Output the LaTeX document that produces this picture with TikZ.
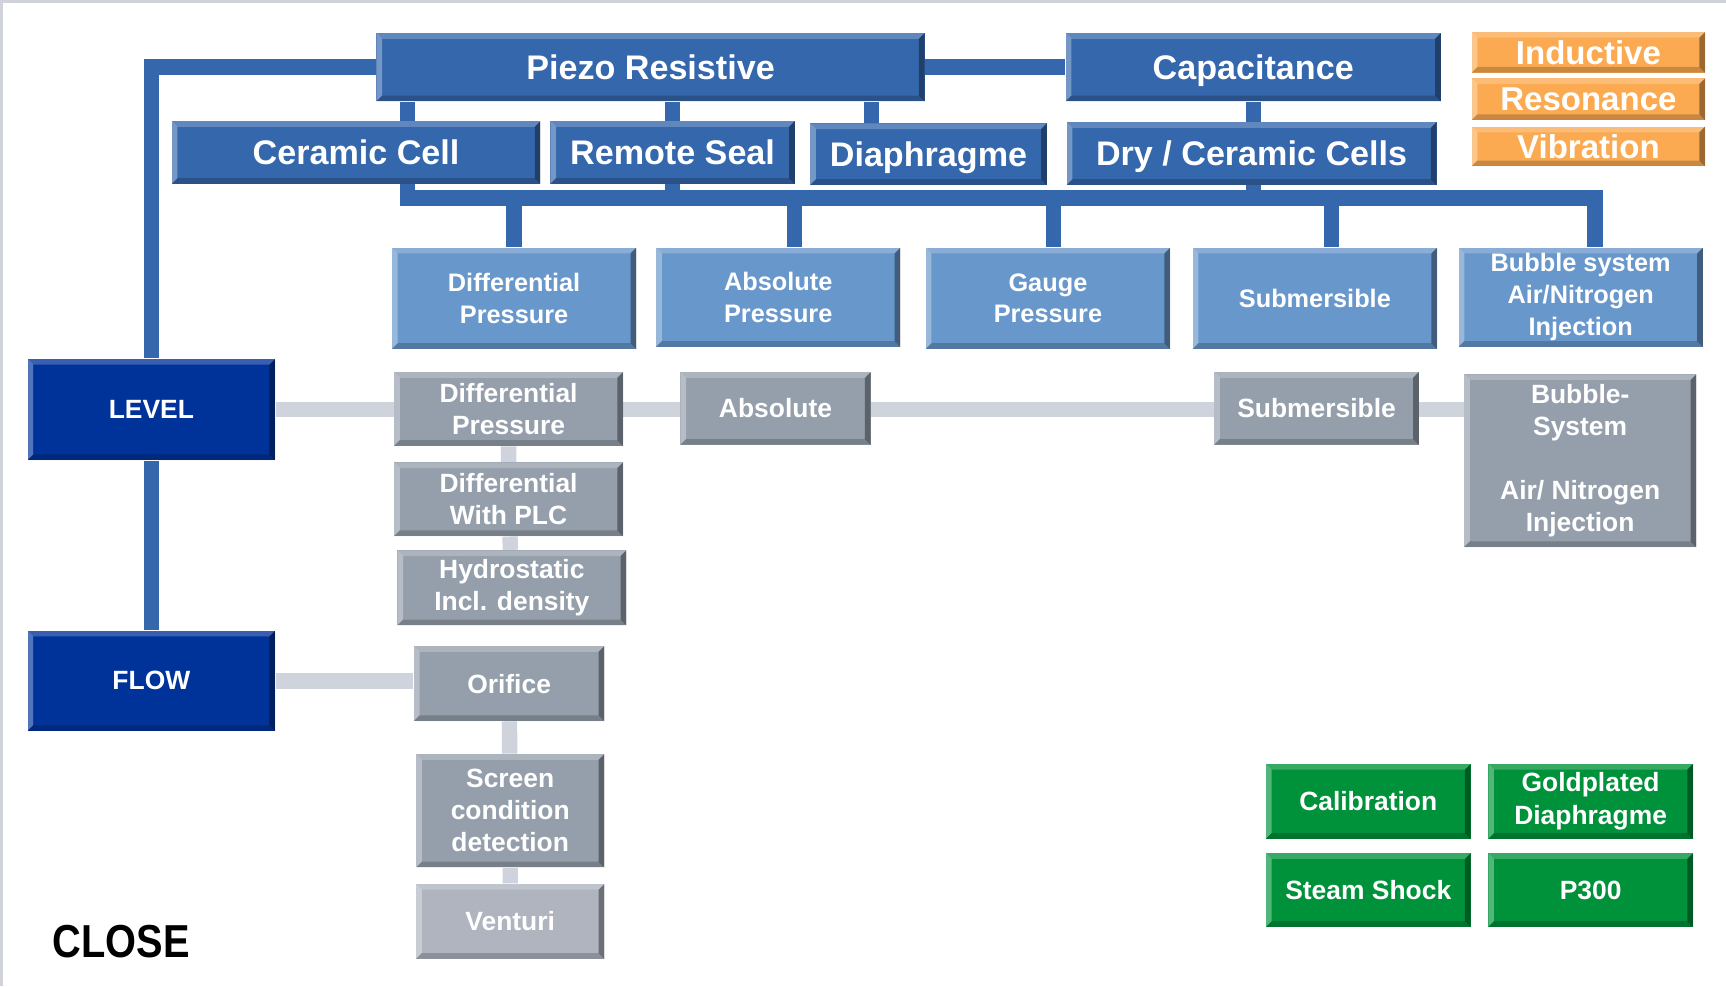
\documentclass[tikz,border=0pt]{standalone}
\usepackage{fontspec}
\setmainfont{Liberation Sans}
\usetikzlibrary{backgrounds}

\definecolor{piezoblue}{HTML}{3567AC}
\definecolor{typeblue}{HTML}{6897CB}
\definecolor{appnavy}{HTML}{00339A}
\definecolor{solgray}{HTML}{959FAB}
\definecolor{ventgray}{HTML}{AFB4BF}
\definecolor{linkgray}{HTML}{CFD3DB}
\definecolor{techorange}{HTML}{FBAA52}
\definecolor{optgreen}{HTML}{00923A}
\definecolor{framegray}{HTML}{D0D3DA}

\newcommand{\bev}{2.6pt}

\begin{document}
\begin{tikzpicture}[
  bevel/.style = {path picture={
      \path (path picture bounding box.north west) coordinate (bnw)
            (path picture bounding box.north east) coordinate (bne)
            (path picture bounding box.south west) coordinate (bsw)
            (path picture bounding box.south east) coordinate (bse);
      \fill[white,opacity=.22] (bnw) -- (bne) -- ([shift={(-\bev,-\bev)}]bne) -- ([shift={(\bev,-\bev)}]bnw) -- cycle;
      \fill[white,opacity=.32] (bnw) -- (bsw) -- ([shift={(\bev,\bev)}]bsw) -- ([shift={(\bev,-\bev)}]bnw) -- cycle;
      \fill[black,opacity=.2] (bsw) -- (bse) -- ([shift={(-\bev,\bev)}]bse) -- ([shift={(\bev,\bev)}]bsw) -- cycle;
      \fill[black,opacity=.38] (bne) -- (bse) -- ([shift={(-\bev,\bev)}]bse) -- ([shift={(-\bev,-\bev)}]bne) -- cycle;
    }},
  box/.style      = {bevel, inner sep=0pt, align=center, text=white},
  topbox/.style   = {box, fill=piezoblue, text height=11pt, text depth=0pt, font=\fontsize{15.5}{18}\selectfont\bfseries},
  techbox/.style  = {box, fill=techorange, minimum width=106pt, text height=10.7pt, text depth=0pt, font=\fontsize{15}{18}\selectfont\bfseries},
  typebox/.style  = {box, fill=typeblue, minimum width=111pt, minimum height=46pt, font=\fontsize{11.5}{14.5}\selectfont\bfseries},
  appbox/.style   = {box, fill=appnavy, minimum width=112.5pt, minimum height=46pt, font=\fontsize{12}{14.5}\selectfont\bfseries},
  solbox/.style   = {box, fill=solgray, font=\fontsize{12}{14.5}\selectfont\bfseries},
  optbox/.style   = {box, fill=optgreen, minimum width=93pt, minimum height=34pt, font=\fontsize{12}{15}\selectfont\bfseries},
  bluelink/.style = {draw=piezoblue, line width=7pt},
  graylink/.style = {draw=linkgray, line width=7pt},
  x=0.5pt, y=-0.5pt,
]

  \useasboundingbox (0,0) rectangle (1568,896);
  \begin{scope}[on background layer]
    \fill[white] (0,0) rectangle (1568,896);
    \fill[framegray] (0,0) rectangle (1568,3);
    \fill[framegray] (0,0) rectangle (3,896);
  \end{scope}

  % principles
  \node[topbox, minimum width=249pt, minimum height=31pt] (piezo) at (591,61) {Piezo Resistive};
  \node[topbox, minimum width=170.5pt, minimum height=31pt] (capa) at (1138.5,61) {Capacitance};
  \node[techbox, minimum height=18.5pt] (ind) at (1443,47.5) {Inductive};
  \node[techbox, minimum height=19pt] (reso) at (1443,90) {Resonance};
  \node[techbox, minimum height=18pt] (vibr) at (1443,133) {Vibration};

  % cells
  \node[topbox, minimum width=167.5pt, minimum height=28.5pt] (ccell) at (323.5,138.5) {Ceramic Cell};
  \node[topbox, minimum width=111pt, minimum height=28.5pt] (rseal) at (611,138.5) {Remote Seal};
  \node[topbox, minimum width=107.5pt, minimum height=28pt] (diaph) at (843.5,140) {Diaphragme};
  \node[topbox, minimum width=168pt, minimum height=28.5pt] (dry) at (1137,139.5) {Dry / Ceramic Cells};

  % sensor types
  \node[typebox] (dpr) at (467,271) {Differential\\Pressure};
  \node[typebox, minimum height=45pt] (apr) at (707,270) {Absolute\\Pressure};
  \node[typebox] (gpr) at (952,271) {Gauge\\Pressure};
  \node[typebox] (sub) at (1194.5,271) {Submersible};
  \node[typebox, minimum height=45pt] (bub) at (1436,270) {Bubble system\\Air/Nitrogen\\Injection};

  % applications
  \node[appbox] (lvl) at (137.5,372) {LEVEL};
  \node[appbox, minimum height=45.5pt] (flow) at (137.5,618.5) {FLOW};

  % level solutions
  \node[solbox, minimum width=104pt, minimum height=33.5pt] (dp2) at (462,371.5) {Differential\\Pressure};
  \node[solbox, minimum width=86.5pt, minimum height=33pt] (abs2) at (704.5,371) {Absolute};
  \node[solbox, minimum width=93pt, minimum height=33pt] (sub2) at (1196,371) {Submersible};
  \node[solbox, minimum width=105.5pt, minimum height=78.5pt] (bub2) at (1435.5,418.5) {Bubble-\\System\\[14.5pt]Air/ Nitrogen\\Injection};
  \node[solbox, minimum width=104pt, minimum height=33.5pt] (plc) at (462,453.5) {Differential\\With PLC};
  \node[solbox, minimum width=104pt, minimum height=34pt] (hydro) at (465,534) {Hydrostatic\\Incl. density};

  % flow solutions
  \node[solbox, minimum width=86.5pt, minimum height=34pt] (orif) at (462.5,621) {Orifice};
  \node[solbox, minimum width=85.5pt, minimum height=51.5pt] (scr) at (463.5,736.5) {Screen\\condition\\detection};
  \node[solbox, fill=ventgray, minimum width=85.5pt, minimum height=34pt] (vent) at (463.5,837) {Venturi};

  % options
  \node[optbox] (cal) at (1243,728) {Calibration};
  \node[optbox] (gold) at (1445,728) {Goldplated\\Diaphragme};
  \node[optbox, minimum height=33.5pt] (steam) at (1243,808.5) {Steam Shock};
  \node[optbox, minimum height=33.5pt] (p300) at (1445,808.5) {P300};

  \node[font=\fontsize{21}{25}\selectfont\bfseries] (close) at (110,855) {\scalebox{0.86}[1]{CLOSE}};

  \coordinate (busw) at (370,180);
  \coordinate (buse) at (1449,180);

  \begin{scope}[on background layer]
    \draw[bluelink] (piezo.west) -| (lvl.north);
    \draw[bluelink] (lvl) -- (flow);
    \draw[bluelink] (piezo) -- (capa);
    \draw[bluelink] (piezo.south -| busw) -- (busw) -- (buse) -- (buse |- bub.north);
    \draw[bluelink] (rseal |- piezo.south) -- (rseal |- busw);
    \draw[bluelink] ([xshift=-26pt]diaph.north) -- ([xshift=-26pt]diaph.north |- piezo.south);
    \draw[bluelink] (capa) -- (capa |- busw);
    \foreach \n/\s in {dpr/0pt, apr/7.5pt, gpr/2.5pt, sub/7.5pt}
      \draw[bluelink] ([xshift=\s]\n.north) -- ([xshift=\s]\n.north |- busw);
    \draw[graylink] (lvl.east) -- (lvl.east -| bub2.west);
    \draw[graylink] (flow.east) -- (flow.east -| orif.west);
    \draw[graylink] (dp2) -- (plc) -- (hydro);
    \draw[graylink] (orif) -- (scr) -- (vent);
  \end{scope}
\end{tikzpicture}
\end{document}
